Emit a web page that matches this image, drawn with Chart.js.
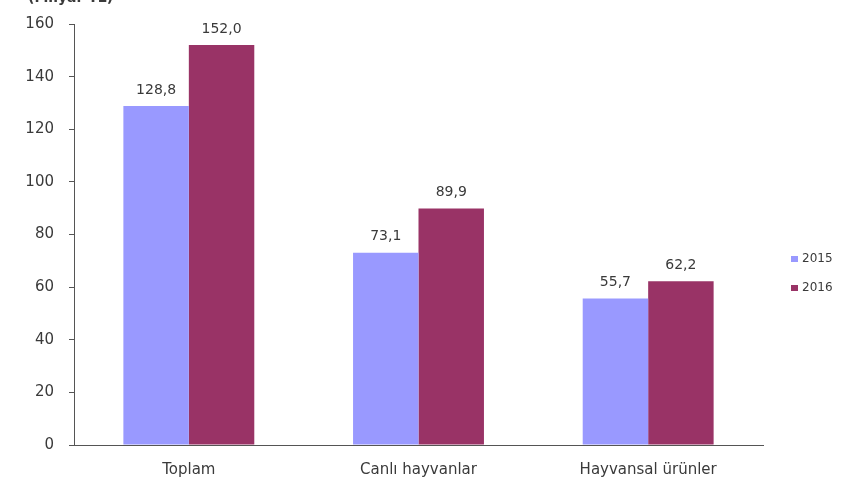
<!DOCTYPE html>
<html>
<head>
<meta charset="utf-8">
<script src="https://cdn.jsdelivr.net/npm/chart.js@4/dist/chart.umd.min.js"></script>
<style>
  html, body { margin: 0; padding: 0; background: #fff; }
  #wrap { width: 860px; height: 480px; position: relative; }
</style>
</head>
<body>
<div id="wrap"><canvas id="c"></canvas></div>
<script>
// ── Veriler ───────────────────────────────────────────
const categories = ['Toplam', 'Canlı hayvanlar', 'Hayvansal ürünler'];
const values2015 = [128.8, 73.1, 55.7];
const values2016 = [152.0, 89.9, 62.2];
const seriesLabels = ['2015', '2016'];
const yTicks = [0, 20, 40, 60, 80, 100, 120, 140, 160];
const unitTitle = '(Milyar TL)';

const COLORS = {
  blue:  '#9999ff',
  red:   '#993366',
  text:  '#3a3a3a',
  axis:  '#555555',
};
const FONT = '"DejaVu Sans", sans-serif';

const fmt = v => v.toFixed(1).replace('.', ',');

// deger etiketleri barlarin ustunde
const valueLabels = {
  id: 'valueLabels',
  afterDatasetsDraw(chart) {
    const ctx = chart.ctx;
    ctx.save();
    ctx.font = `14px ${FONT}`;
    ctx.fillStyle = COLORS.text;
    ctx.textAlign = 'center';
    ctx.textBaseline = 'bottom';
    chart.data.datasets.forEach((ds, i) => {
      chart.getDatasetMeta(i).data.forEach((bar, j) => {
        ctx.fillText(fmt(ds.data[j]), bar.x, bar.y - 9);
      });
    });
    ctx.restore();
  }
};

// sagdaki kucuk lejant + ust baslik
const sideLegend = {
  id: 'sideLegend',
  afterDraw(chart) {
    const ctx = chart.ctx;
    ctx.save();
    ctx.font = `12px ${FONT}`;
    ctx.textBaseline = 'middle';
    chart.data.datasets.forEach((ds, i) => {
      const y = 259 + i * 29;
      ctx.fillStyle = ds.backgroundColor;
      ctx.fillRect(791, y - 3, 7, 6);
      ctx.fillStyle = COLORS.text;
      ctx.fillText(ds.label, 802, y);
    });
    ctx.font = `bold 14px ${FONT}`;
    ctx.textBaseline = 'bottom';
    ctx.fillText(unitTitle, 28, 5);
    ctx.restore();
  }
};

new Chart(document.getElementById('c'), {
  type: 'bar',
  data: {
    labels: categories,
    datasets: [
      { label: seriesLabels[0], data: values2015, backgroundColor: COLORS.blue, borderWidth: 0 },
      { label: seriesLabels[1], data: values2016, backgroundColor: COLORS.red,  borderWidth: 0 },
    ]
  },
  options: {
    responsive: true,
    maintainAspectRatio: false,
    animation: false,
    layout: { padding: { top: 24, right: 97, bottom: 0, left: 0 } },
    datasets: { bar: { categoryPercentage: 0.57, barPercentage: 1.0 } },
    plugins: {
      legend: { display: false },
      tooltip: { enabled: false },
    },
    scales: {
      x: {
        afterFit: s => { s.height = 35; },
        grid:   { display: true, drawOnChartArea: false, drawTicks: false },
        border: { display: true, color: COLORS.axis, width: 1 },
        ticks:  { color: COLORS.text, font: { family: FONT, size: 15 }, padding: 16 },
      },
      y: {
        min: 0,
        max: 160,
        afterBuildTicks: s => { s.ticks = yTicks.map(v => ({ value: v })); },
        afterFit: s => { s.width = 74; },
        grid:   { drawOnChartArea: false, drawTicks: true, tickLength: 5, color: COLORS.axis },
        border: { display: true, color: COLORS.axis, width: 1 },
        ticks:  { color: COLORS.text, font: { family: FONT, size: 15 }, padding: 15 },
      },
    },
  },
  plugins: [valueLabels, sideLegend],
});
</script>
</body>
</html>
